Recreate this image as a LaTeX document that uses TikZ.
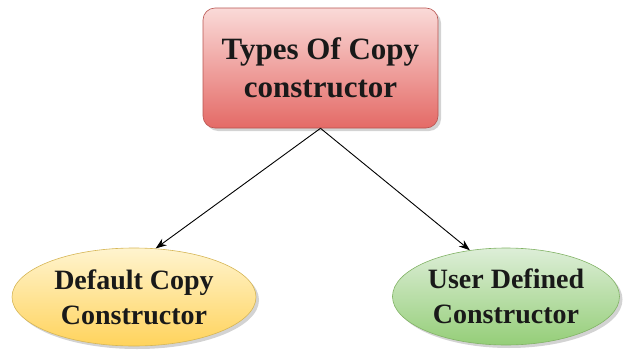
\documentclass[tikz,border=0pt]{standalone}
\usepackage{fontspec}
\setmainfont{Liberation Serif}
\usetikzlibrary{shapes.geometric,shadows,arrows.meta}
\definecolor{redtop}{HTML}{FADAD8}
\definecolor{redmid}{HTML}{EE9996}
\definecolor{redbot}{HTML}{E46A66}
\definecolor{redline}{HTML}{B85450}
\definecolor{yeltop}{HTML}{FFF4CF}
\definecolor{yelbot}{HTML}{FFD35C}
\definecolor{yelline}{HTML}{D6B656}
\definecolor{grntop}{HTML}{DDEED8}
\definecolor{grnbot}{HTML}{95CE78}
\definecolor{grnline}{HTML}{82B366}
\tikzset{
  txt/.style={align=center, text=black!90},
  shad/.style={drop shadow={opacity=0.35, shadow xshift=3pt, shadow yshift=-3pt}},
  topbox/.style={txt, shad, font=\fontsize{31}{38}\selectfont\bfseries, rectangle, rounded corners=12pt, draw=redline, line width=0.6pt,
    top color=redtop, middle color=redmid, bottom color=redbot, minimum width=235pt, minimum height=120pt, inner sep=0pt},
  yelell/.style={txt, shad, font=\fontsize{28}{35}\selectfont\bfseries, ellipse, draw=yelline, line width=0.6pt,
    top color=yeltop, bottom color=yelbot, minimum width=244pt, minimum height=98pt, inner sep=0pt},
  grnell/.style={txt, shad, font=\fontsize{28}{35}\selectfont\bfseries, ellipse, draw=grnline, line width=0.6pt,
    top color=grntop, bottom color=grnbot, minimum width=227pt, minimum height=97pt, inner sep=0pt},
  conn/.style={-{Stealth[length=11pt,width=8pt]}, line width=0.9pt, black}
}
\begin{document}
\begin{tikzpicture}[x=1pt,y=-1pt]
\useasboundingbox (0,0) rectangle (627,351);
\node[topbox] (top) at (320.5,68) {Types Of Copy\\constructor};
\node[yelell] (left) at (134,297) {Default Copy\\Constructor};
\node[grnell] (right) at (506,296.5) {User Defined\\Constructor};
\draw[conn] (top.south) -- (left.66);
\draw[conn] (top.south) -- (right.128);
\end{tikzpicture}
\end{document}
